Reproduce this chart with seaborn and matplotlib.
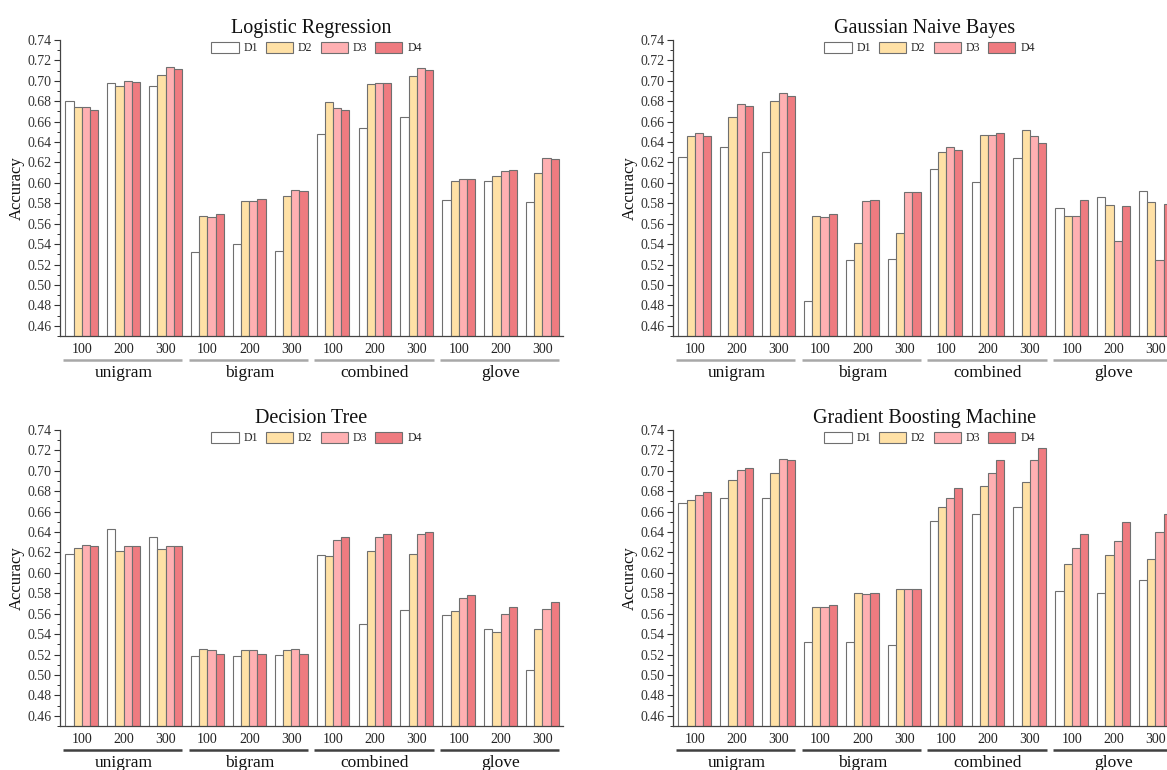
import numpy as np
import pandas as pd
import matplotlib
matplotlib.use("Agg")
import matplotlib.pyplot as plt
import matplotlib.transforms as mtransforms
from matplotlib.ticker import MultipleLocator, FormatStrFormatter
import seaborn as sns

# ---------------- data ----------------
groups = ["unigram", "bigram", "combined", "glove"]
dims = ["100", "200", "300"]
datasets = ["D1", "D2", "D3", "D4"]
titles = ["Logistic Regression", "Gaussian Naive Bayes", "Decision Tree", "Gradient Boosting Machine"]

lr_d1 = [0.680, 0.698, 0.695, 0.532, 0.540, 0.533, 0.648, 0.654, 0.665, 0.583, 0.602, 0.581]
lr_d2 = [0.674, 0.695, 0.706, 0.568, 0.582, 0.587, 0.679, 0.697, 0.705, 0.602, 0.607, 0.610]
lr_d3 = [0.674, 0.700, 0.714, 0.567, 0.582, 0.593, 0.673, 0.698, 0.713, 0.604, 0.612, 0.624]
lr_d4 = [0.671, 0.699, 0.712, 0.570, 0.584, 0.592, 0.671, 0.698, 0.711, 0.604, 0.613, 0.623]

gnb_d1 = [0.625, 0.635, 0.630, 0.484, 0.524, 0.525, 0.614, 0.601, 0.624, 0.575, 0.586, 0.592]
gnb_d2 = [0.646, 0.665, 0.680, 0.568, 0.541, 0.551, 0.630, 0.647, 0.652, 0.568, 0.578, 0.581]
gnb_d3 = [0.649, 0.677, 0.688, 0.567, 0.582, 0.591, 0.635, 0.647, 0.646, 0.568, 0.543, 0.524]
gnb_d4 = [0.646, 0.675, 0.685, 0.570, 0.583, 0.591, 0.632, 0.649, 0.639, 0.583, 0.577, 0.579]

dt_d1 = [0.619, 0.643, 0.635, 0.519, 0.519, 0.520, 0.618, 0.550, 0.564, 0.559, 0.545, 0.505]
dt_d2 = [0.624, 0.621, 0.623, 0.525, 0.524, 0.524, 0.617, 0.621, 0.619, 0.563, 0.542, 0.545]
dt_d3 = [0.627, 0.626, 0.626, 0.524, 0.524, 0.525, 0.632, 0.635, 0.638, 0.575, 0.560, 0.565]
dt_d4 = [0.626, 0.626, 0.626, 0.521, 0.521, 0.521, 0.635, 0.638, 0.640, 0.578, 0.567, 0.571]

gbm_d1 = [0.668, 0.673, 0.673, 0.532, 0.532, 0.529, 0.651, 0.658, 0.665, 0.582, 0.580, 0.593]
gbm_d2 = [0.671, 0.691, 0.698, 0.567, 0.580, 0.584, 0.665, 0.685, 0.689, 0.609, 0.618, 0.614]
gbm_d3 = [0.676, 0.701, 0.712, 0.567, 0.579, 0.584, 0.673, 0.698, 0.711, 0.624, 0.631, 0.640]
gbm_d4 = [0.679, 0.703, 0.711, 0.569, 0.580, 0.584, 0.683, 0.711, 0.722, 0.638, 0.650, 0.658]

model_series = [
    [lr_d1, lr_d2, lr_d3, lr_d4],
    [gnb_d1, gnb_d2, gnb_d3, gnb_d4],
    [dt_d1, dt_d2, dt_d3, dt_d4],
    [gbm_d1, gbm_d2, gbm_d3, gbm_d4],
]

colors = ["#FFFFFF", "#FFE1A6", "#FFB0B2", "#EF7B80"]

# ---------------- style ----------------
sns.set_style("ticks")
plt.rcParams["font.family"] = ["Liberation Serif", "DejaVu Serif"]
plt.rcParams["axes.edgecolor"] = "#444444"
plt.rcParams["axes.linewidth"] = 0.9

W, H = 1167, 770
fig = plt.figure(figsize=(W / 100, H / 100), dpi=100)

def px_axes(left, top, right, bottom):
    return fig.add_axes([left / W, 1 - bottom / H, (right - left) / W, (bottom - top) / H])

boxes = [(60, 40, 563, 336), (673, 40, 1176, 336), (60, 430, 563, 726), (673, 430, 1176, 726)]
line_colors = ["#a8a8a8", "#a8a8a8", "#404040", "#404040"]

keys = [f"{g}-{d}" for g in groups for d in dims]

for idx, (box, title, series) in enumerate(zip(boxes, titles, model_series)):
    ax = px_axes(*box)
    rows = []
    for ds, vals in zip(datasets, series):
        for k, v in zip(keys, vals):
            rows.append({"key": k, "dataset": ds, "value": v})
    df = pd.DataFrame(rows)
    sns.barplot(data=df, x="key", y="value", hue="dataset", order=keys,
                hue_order=datasets, palette=colors, width=0.78, saturation=1,
                edgecolor="#6f6f6f", linewidth=0.8, ax=ax, errorbar=None)

    ax.set_ylim(0.45, 0.74)
    ax.set_xlim(-0.52, 11.49)
    ax.yaxis.set_major_locator(MultipleLocator(0.02))
    ax.yaxis.set_minor_locator(MultipleLocator(0.01))
    ax.yaxis.set_major_formatter(FormatStrFormatter("%.2f"))
    ax.set_yticks(np.arange(0.46, 0.7401, 0.02))
    ax.tick_params(axis="y", which="major", direction="out", length=4, width=0.8,
                   labelsize=10, colors="#333333", pad=2)
    ax.tick_params(axis="y", which="minor", direction="out", length=2, width=0.7, colors="#333333")
    ax.set_xticks(range(len(keys)))
    ax.set_xticklabels(dims * len(groups))
    ax.tick_params(axis="x", length=0, labelsize=10, pad=5, colors="#222222")
    sns.despine(ax=ax)
    ax.set_xlabel("")
    ax.set_ylabel("Accuracy", fontsize=12, labelpad=2, color="#111111")
    ax.set_title(title, fontsize=14.5, pad=5, color="#111111")

    trans = mtransforms.blended_transform_factory(ax.transData, ax.transAxes)
    for gi, g in enumerate(groups):
        x0 = gi * 3 - 0.45
        x1 = gi * 3 + 2.4
        ax.plot([x0, x1], [-0.08, -0.08], transform=trans, clip_on=False,
                color=line_colors[idx], lw=1.8, solid_capstyle="butt")
        ax.text(gi * 3 + 1, -0.125, g, transform=trans, ha="center", va="center",
                fontsize=12.5, color="#111111")

    handles, labels = ax.get_legend_handles_labels()
    ax.legend(handles, labels, loc="upper center", bbox_to_anchor=(0.51, 1.01),
              ncol=4, frameon=False, fontsize=8.5, handlelength=2.3,
              handleheight=1.1, columnspacing=0.7, handletextpad=0.4,
              borderaxespad=0)

fig.savefig("out.png", dpi=100)
